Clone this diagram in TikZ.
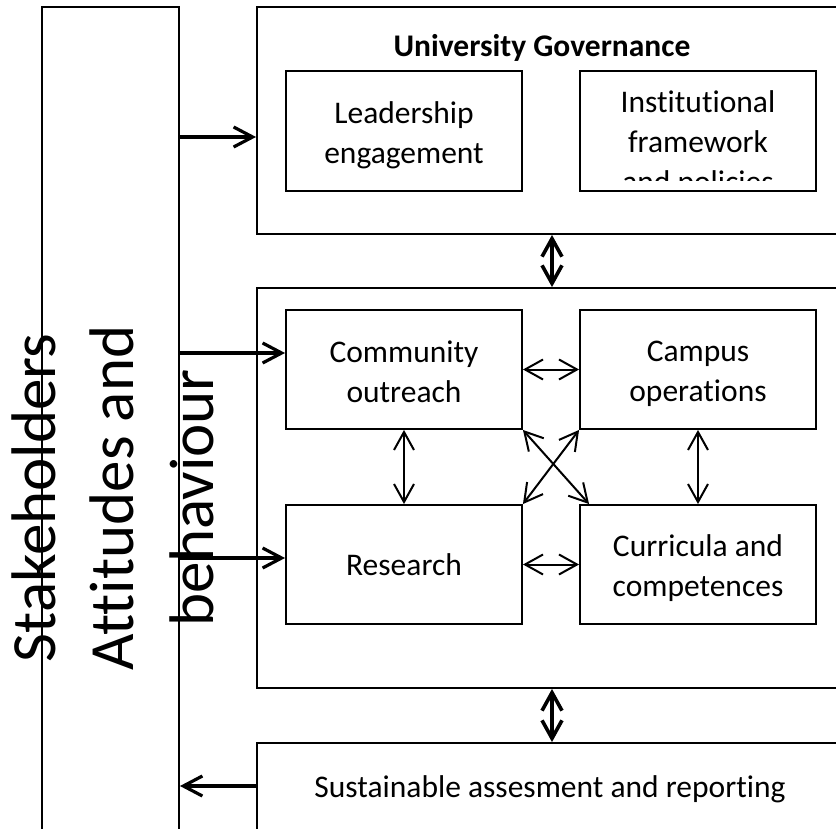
\documentclass[tikz,border=0pt]{standalone}
\usepackage{fontspec}
\setmainfont{Carlito}[Ligatures=NoCommon]
\usetikzlibrary{arrows.meta}
\newcommand{\topstrut}{\rule{0pt}{30pt}}
\newcommand{\botstrut}{\rule[-5pt]{0pt}{5pt}}
\begin{document}
\begin{tikzpicture}[x=1pt,y=-1pt,
  box/.style={draw, line width=1.9pt, inner sep=0pt, align=center, font=\fontsize{31.5}{40}\selectfont},
  bodytext/.style={inner sep=0pt, align=center, font=\fontsize{31.5}{40}\selectfont},
  sidetext/.style={inner sep=0pt, rotate=90, anchor=base, font=\fontsize{63}{77}\selectfont},
  linkarrow/.style={line width=2pt, {Straight Barb[length=18pt,width=20pt]}-{Straight Barb[length=18pt,width=20pt]}},
  feedarrow/.style={line width=3.2pt, -{Straight Barb[length=19pt,width=20pt]}},
  bigtwoway/.style={line width=3.6pt, {Straight Barb[length=18pt,width=20pt]}-{Straight Barb[length=18pt,width=20pt]}}
]
\clip (0,0) rectangle (836,829);
\fill[white] (0,0) rectangle (836,829);

% left stakeholder column
\node[box, minimum width=137pt, minimum height=860pt] (stake) at (110.5,437) {};

% university governance
\node[box, minimum width=643pt, minimum height=227pt] (ug) at (578.5,120.5) {};
\node[bodytext, font=\fontsize{31.5}{40}\selectfont\bfseries, anchor=base] (ugtitle) at (542,57) {University Governance};
\node[box, minimum width=236pt, minimum height=120pt] (lead) at (404,131) {\topstrut Leadership\\engagement\botstrut};
\node[box, minimum width=236pt, minimum height=120pt] (inst) at (698,131) {};
\begin{scope}
  \clip (581,72) rectangle (815,181);
  \node[bodytext] (insttext) at (698,140.5) {\topstrut Institutional\\framework\\and policies\botstrut};
\end{scope}

% core block
\node[box, minimum width=643pt, minimum height=400pt] (core) at (578.5,488) {};
\node[box, minimum width=236pt, minimum height=119pt] (comm) at (404,369.5) {\topstrut Community\\outreach\botstrut};
\node[box, minimum width=236pt, minimum height=119pt] (camp) at (698,369.5) {\topstrut Campus\\operations\botstrut};
\node[box, minimum width=236pt, minimum height=119pt] (res) at (404,564.5) {Research};
\node[box, minimum width=236pt, minimum height=119pt] (curr) at (698,564.5) {\topstrut Curricula and\\competences\botstrut};

% assessment block
\node[box, minimum width=643pt, minimum height=157pt] (sust) at (578.5,821.5) {};
\node[bodytext, anchor=base] (susttext) at (550,797) {Sustainable assesment and reporting};

% rotated side texts
\node[sidetext] (stakeA) at (55,498) {Stakeholders};
\node[sidetext] (stakeB) at (133,498) {Attitudes and};
\node[sidetext] (stakeC) at (213,498) {behaviour};

% arrows from/to the stakeholder column
\draw[feedarrow] (stake.east |- 0,137) -- (ug.west |- 0,137);
\draw[feedarrow] (stake.east |- 0,353) -- (comm.west |- 0,353);
\draw[feedarrow] (stake.east |- 0,558) -- (res.west |- 0,558);
\draw[feedarrow] (sust.west |- 0,786) -- (stake.east |- 0,786);

% vertical links between blocks
\draw[bigtwoway] (ug.south -| 552,0) -- (core.north -| 552,0);
\draw[bigtwoway] (core.south -| 552,0) -- (sust.north -| 552,0);

% links inside core
\draw[linkarrow] (comm.east) -- (camp.west);
\draw[linkarrow] (res.east) -- (curr.west);
\draw[linkarrow] (comm.south) -- (res.north);
\draw[linkarrow] (camp.south) -- (curr.north);
\draw[linkarrow] (comm.south east) -- ([xshift=10pt]curr.north west);
\draw[linkarrow] (camp.south west) -- (res.north east);
\end{tikzpicture}
\end{document}
